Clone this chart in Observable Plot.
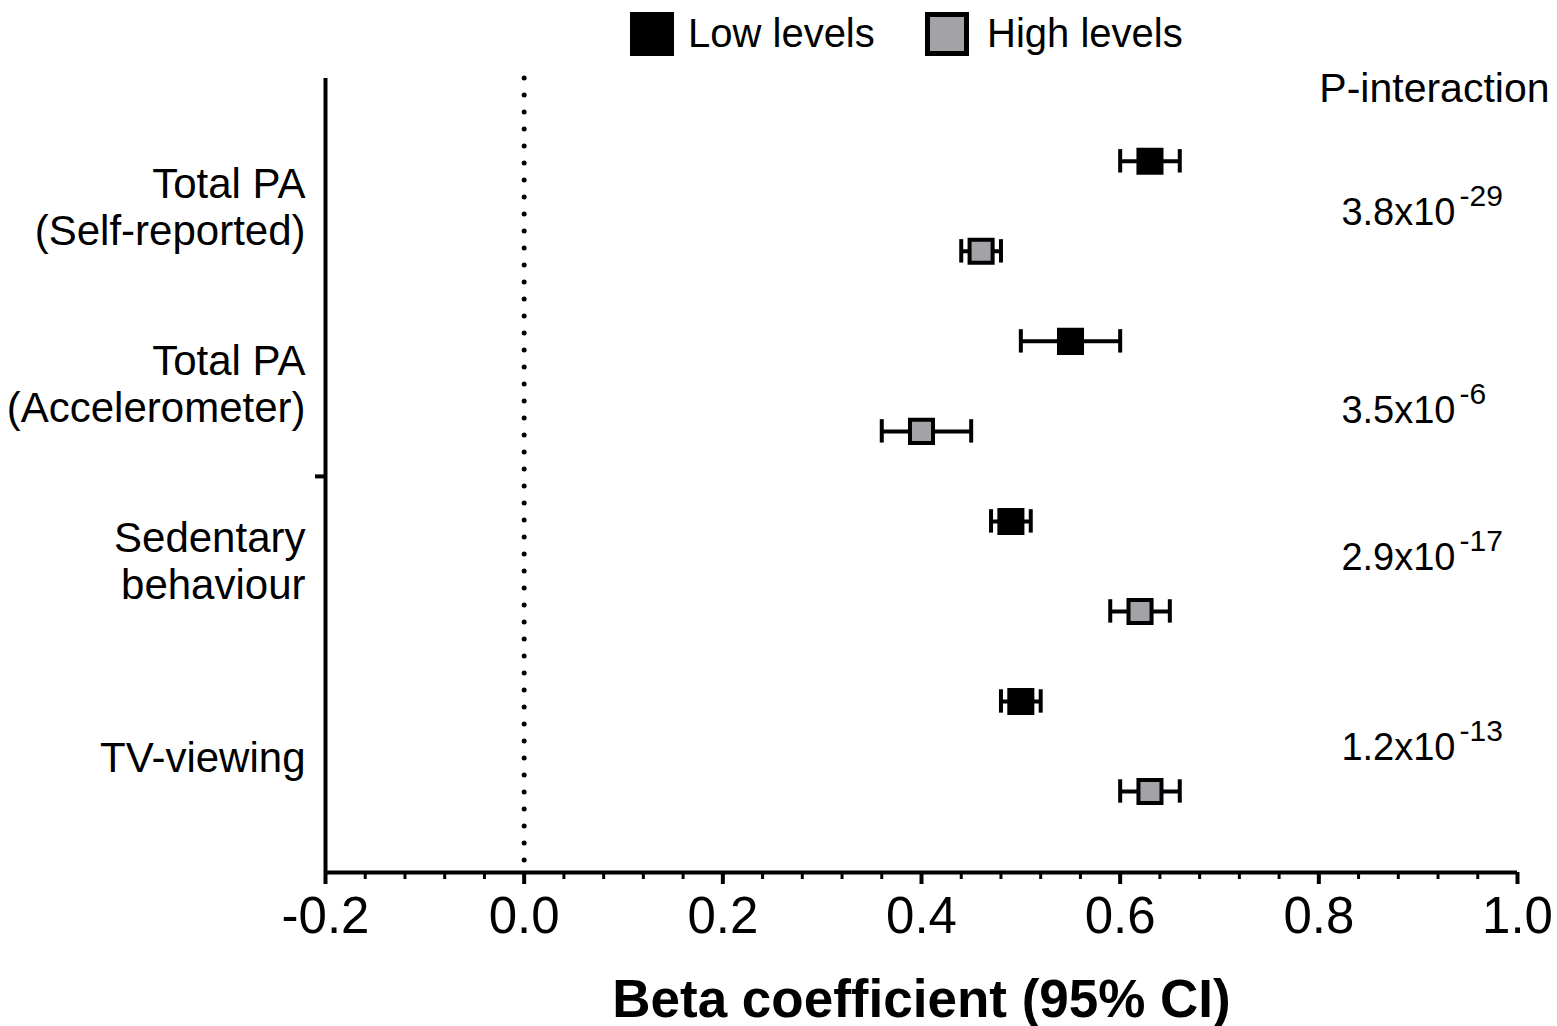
<!DOCTYPE html>
<html>
<head>
<meta charset="utf-8">
<script src="https://cdn.jsdelivr.net/npm/d3@7"></script>
<script src="https://cdn.jsdelivr.net/npm/@observablehq/plot@0.6"></script>
<style>
  body { margin: 0; background: #fff; font-family: "Liberation Sans", Arial, Helvetica, sans-serif; }
  #wrap { position: relative; width: 1557px; }
  #legend { position: relative; height: 70px; width: 1557px; }
  .sw { position: absolute; top: 12px; width: 44px; height: 44px; box-sizing: border-box; }
  .lt { position: absolute; top: 10px; font-size: 40px; line-height: 46px; color: #000; }
  svg { display: block; }
</style>
</head>
<body>
<div id="wrap">
  <div id="legend"></div>
  <div id="chart"></div>
</div>
<script>
// ---- data ----
const categories = ["Total PA\n(Self-reported)", "Total PA\n(Accelerometer)", "Sedentary\nbehaviour", "TV-viewing"];
const seriesNames = ["Low levels", "High levels"];
const lowBeta  = [0.63, 0.55, 0.49, 0.50];
const lowLo    = [0.60, 0.50, 0.47, 0.48];
const lowHi    = [0.66, 0.60, 0.51, 0.52];
const highBeta = [0.46, 0.40, 0.62, 0.63];
const highLo   = [0.44, 0.36, 0.59, 0.60];
const highHi   = [0.48, 0.45, 0.65, 0.66];
const pBase = ["3.8x10", "3.5x10", "2.9x10", "1.2x10"];
const pExp  = ["-29", "-6", "-17", "-13"];
const pHeader = "P-interaction";
const xTicks = [-0.2, 0.0, 0.2, 0.4, 0.6, 0.8, 1.0];
const xLabel = "Beta coefficient (95% CI)";

// ---- build table ----
const rows = [];
categories.forEach((c, i) => {
  rows.push({cat: c, series: seriesNames[0], row: 2 * i,     beta: lowBeta[i],  lo: lowLo[i],  hi: lowHi[i]});
  rows.push({cat: c, series: seriesNames[1], row: 2 * i + 1, beta: highBeta[i], lo: highLo[i], hi: highHi[i]});
});
const minorTicks = d3.range(0, 31).map(k => -0.2 + k * 0.04);

// layout (row units) for label placement
const labelRow = [0.5, 2.47, 4.43, 6.62];
const pRow = [0.57, 2.77, 4.4, 6.51];
const pTable = pBase.map((b, i) => ({b, e: pExp[i], y: pRow[i]}));
const catTable = categories.map((c, i) => ({c, y: labelRow[i]}));

const colors = ["#000000", "#a2a2a7"];
const font = "Liberation Sans, Arial, Helvetica, sans-serif";

// ---- legend ----
const legend = document.getElementById("legend");
legend.innerHTML = `
  <div class="sw" style="left:630px;background:${colors[0]};"></div>
  <div class="lt" style="left:688px;">${seriesNames[0]}</div>
  <div class="sw" style="left:925px;background:${colors[1]};border:5px solid #000;"></div>
  <div class="lt" style="left:987px;">${seriesNames[1]}</div>`;

// ---- chart ----
const yMin = -0.92, yMax = 7.9;
const plot = Plot.plot({
  width: 1557,
  height: 956,
  marginTop: 8,
  marginBottom: 154,
  marginLeft: 325,
  marginRight: 40,
  style: {fontFamily: font, color: "#000", background: "#fff", overflow: "visible"},
  x: {domain: [-0.2, 1.0]},
  y: {domain: [yMin, yMax], reverse: true},
  color: {domain: seriesNames, range: colors},
  marks: [
    // dotted zero line
    Plot.ruleX([0], {stroke: "#000", strokeWidth: 5, strokeDasharray: "0 17", strokeLinecap: "round"}),
    // axis lines
    Plot.ruleX([-0.2], {y1: yMin, y2: yMax, stroke: "#000", strokeWidth: 4}),
    Plot.ruleY([yMax], {x1: -0.2, x2: 1.0, stroke: "#000", strokeWidth: 4}),
    // minor ticks
    Plot.axisX({ticks: minorTicks, tickSize: 7, tickFormat: () => "", strokeWidth: 3, label: null}),
    // major ticks + labels
    Plot.axisX({ticks: xTicks, tickSize: 12, tickPadding: 12, strokeWidth: 4, fontSize: 51,
                tickFormat: d => d.toFixed(1), label: null}),
    // single y tick
    Plot.axisY({ticks: [3.5], tickSize: 10, strokeWidth: 4, tickFormat: () => "", label: null}),
    // category labels
    Plot.text(catTable, {frameAnchor: "left", y: "y", text: "c", dx: -20, textAnchor: "end",
                         lineAnchor: "middle", lineHeight: 1.12, fontSize: 42, fill: "#000"}),
    // error bars
    Plot.link(rows, {x1: "lo", x2: "hi", y1: "row", y2: "row", stroke: "#000", strokeWidth: 4}),
    Plot.ruleX(rows, {x: "lo", y1: d => d.row - 0.13, y2: d => d.row + 0.13, stroke: "#000", strokeWidth: 4}),
    Plot.ruleX(rows, {x: "hi", y1: d => d.row - 0.13, y2: d => d.row + 0.13, stroke: "#000", strokeWidth: 4}),
    // markers
    Plot.dot(rows, {x: "beta", y: "row", symbol: "square", r: 13, fill: "series", stroke: "#000", strokeWidth: 4}),
    // P-interaction header
    Plot.text([pHeader], {frameAnchor: "top-right", dx: 32, dy: 10, textAnchor: "end",
                          lineAnchor: "middle", fontSize: 41, fill: "#000"}),
    // p-values
    Plot.text(pTable, {frameAnchor: "right", y: "y", text: "b", dx: -62, textAnchor: "end",
                       lineAnchor: "middle", fontSize: 38, fill: "#000"}),
    Plot.text(pTable, {frameAnchor: "right", y: "y", text: "e", dx: -58, dy: -16, textAnchor: "start",
                       lineAnchor: "middle", fontSize: 30, fill: "#000"}),
    // x-axis title
    Plot.text([xLabel], {frameAnchor: "bottom", dy: 128, lineAnchor: "middle", fontSize: 53,
                         fontWeight: "bold", fill: "#000"})
  ]
});
document.getElementById("chart").appendChild(plot);
</script>
</body>
</html>
